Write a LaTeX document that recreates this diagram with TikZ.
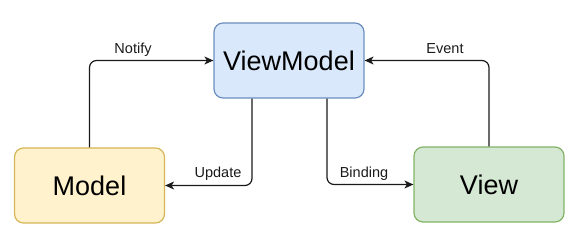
\documentclass[tikz,border=0pt]{standalone}
\usepackage{fontspec}
\setmainfont{Liberation Sans}
\usetikzlibrary{arrows.meta}
\definecolor{vmfill}{HTML}{DAE8FC}
\definecolor{vmline}{HTML}{6C8EBF}
\definecolor{mfill}{HTML}{FFF2CC}
\definecolor{mline}{HTML}{D6B656}
\definecolor{vfill}{HTML}{D5E8D4}
\definecolor{vline}{HTML}{82B366}
\definecolor{conncol}{HTML}{1A1A1A}
\begin{document}
\begin{tikzpicture}[x=1pt,y=-1pt,
  box/.style={rounded corners=9pt, line width=1.2pt, minimum width=150pt, minimum height=75pt, inner sep=0pt, font=\fontsize{27}{30}\selectfont},
  conn/.style={draw=conncol, line width=1.2pt, rounded corners=7pt, -{Stealth[length=9pt,width=8pt,inset=2.5pt]}},
  lbl/.style={font=\fontsize{14.5}{16}\selectfont, anchor=base, inner sep=0pt, text=conncol}]
\useasboundingbox (0,0) rectangle (585,246);
\node[box, fill=vmfill, draw=vmline] (vm) at (289,60.5) {ViewModel};
\node[box, fill=mfill, draw=mline] (model) at (89.5,185.5) {Model};
\node[box, fill=vfill, draw=vline] (view) at (489,184.5) {View};
\draw[conn] (model.north) |- (vm.west);
\draw[conn] ([xshift=-37pt]vm.south) |- (model.east);
\draw[conn] ([xshift=38pt]vm.south) |- (view.west);
\draw[conn] (view.north) |- (vm.east);
\node[lbl] (notifyl) at (133,53) {Notify};
\node[lbl] (updatel) at (218,177) {Update};
\node[lbl] (bindingl) at (364,177) {Binding};
\node[lbl] (eventl) at (445,53) {Event};
\end{tikzpicture}
\end{document}
